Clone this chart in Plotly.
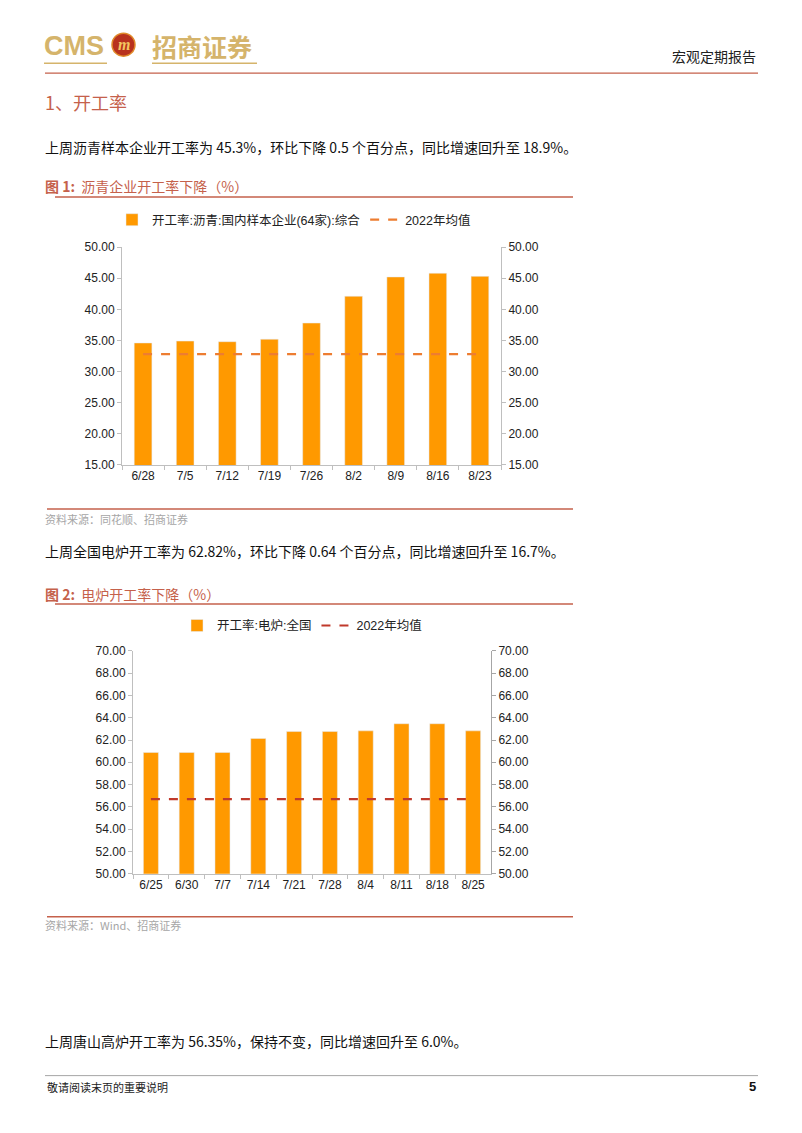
import plotly.graph_objects as go

# page is drawn inside the 8px body margin of the html page
OFF = 8
W, H = 802 - 2 * OFF, 1133 - 2 * OFF
# measured vertical squeeze of the photographed page
SY, DY = 0.988, 5.9

# chart 1 data: asphalt sample enterprises
dates1 = ["6/28", "7/5", "7/12", "7/19", "7/26", "8/2", "8/9", "8/16", "8/23"]
rate1 = [34.6, 34.9, 34.8, 35.2, 37.8, 42.1, 45.2, 45.8, 45.3]
avg1 = [32.8] * len(dates1)

# chart 2 data: electric furnace
dates2 = ["6/25", "6/30", "7/7", "7/14", "7/21", "7/28", "8/4", "8/11", "8/18", "8/25"]
rate2 = [60.88, 60.88, 60.88, 62.14, 62.76, 62.76, 62.82, 63.46, 63.46, 62.82]
avg2 = [56.7] * len(dates2)

FONT = "Liberation Sans, Noto Sans CJK SC, sans-serif"
CJK = "Noto Sans CJK SC, Liberation Sans, sans-serif"
BAR = "#FF9900"
RED = "#C5614B"
GOLD = "#D5B46B"


def py(y):
    y = (y - DY) / SY
    return 1 - (y - OFF) / H


def px(x):
    return (x - OFF) / W


fig = go.Figure()

fig.add_trace(go.Bar(x=dates1, y=rate1, name="开工率:沥青:国内样本企业(64家):综合",
                     marker_color=BAR, width=0.42, xaxis="x", yaxis="y", legend="legend"))
fig.add_trace(go.Scatter(x=dates1, y=avg1, name="2022年均值", mode="lines",
                         line=dict(color="#ED7D31", dash="dash", width=2.2),
                         xaxis="x", yaxis="y2", legend="legend"))
fig.add_trace(go.Bar(x=dates2, y=rate2, name="开工率:电炉:全国",
                     marker_color=BAR, width=0.42, xaxis="x3", yaxis="y3", legend="legend2"))
fig.add_trace(go.Scatter(x=dates2, y=avg2, name="2022年均值", mode="lines",
                         line=dict(color="#C0392B", dash="dash", width=2.2),
                         xaxis="x3", yaxis="y4", legend="legend2"))

tick_font = dict(family=FONT, size=12, color="#222")


def yax(dom, rng, dtick, anchor, side="left", overlay=None, lc="#BFBFBF"):
    d = dict(domain=dom, range=rng, dtick=dtick, tickformat=".2f", showgrid=False,
             zeroline=False, showline=True, linecolor=lc, linewidth=1, ticks="outside",
             ticklen=4, tickcolor=lc, tickfont=tick_font, side=side, anchor=anchor,
             fixedrange=True)
    if overlay:
        d["overlaying"] = overlay
    return d


def xax(dom, anchor):
    return dict(domain=dom, anchor=anchor, showgrid=False, zeroline=False, showline=True,
                linecolor="#BFBFBF", ticks="outside", tickson="boundaries", ticklen=4,
                tickcolor="#BFBFBF", tickfont=tick_font, type="category")


fig.update_layout(
    width=W, height=H, margin=dict(l=0, r=0, t=0, b=0),
    paper_bgcolor="white", plot_bgcolor="white", showlegend=True,
    xaxis=xax([px(122), px(501)], "y"),
    yaxis=yax([py(464), py(246)], [15, 50], 5, "x"),
    yaxis2=yax([py(464), py(246)], [15, 50], 5, "x", side="right", overlay="y"),
    xaxis3=xax([px(133), px(491)], "y3"),
    yaxis3=yax([py(873), py(650)], [50, 70], 2, "x3"),
    yaxis4=yax([py(873), py(650)], [50, 70], 2, "x3", side="right", overlay="y3", lc="#A6A6A6"),
    legend=dict(orientation="h", x=px(112), y=py(219), xanchor="left", yanchor="middle",
                font=dict(family=FONT, size=12.5, color="#222"),
                bgcolor="rgba(0,0,0,0)"),
    legend2=dict(orientation="h", x=px(177), y=py(625), xanchor="left", yanchor="middle",
                 font=dict(family=FONT, size=12.5, color="#222"),
                 bgcolor="rgba(0,0,0,0)"),
)

shapes = []


def hline(x0, x1, y, color, w=1.2):
    shapes.append(dict(type="line", xref="paper", yref="paper", x0=px(x0), x1=px(x1),
                       y0=py(y), y1=py(y), line=dict(color=color, width=w)))


hline(44, 107, 62, GOLD, 1.5)
hline(152, 257, 62, GOLD, 1.5)
hline(45, 758, 72, RED, 1.2)
hline(55, 573, 196, RED, 1.5)
hline(47, 573, 508, RED, 1.5)
hline(55, 573, 603, RED, 1.5)
hline(47, 573, 916, RED, 1.5)
hline(45, 758, 1075, "#A6A6A6", 1)
# logo circle
shapes.append(dict(type="circle", xref="paper", yref="paper", x0=px(112), x1=px(135),
                   y0=py(55), y1=py(32), fillcolor="#B8321E", line=dict(color="#E08A2A", width=1.5)))
fig.update_layout(shapes=shapes)


def text(x, y, s, size, color="#111", anchor="left", family=CJK, bold=False):
    if bold:
        s = "<b>" + s + "</b>"
    fig.add_annotation(x=px(x), y=py(y), xref="paper", yref="paper", text=s,
                       showarrow=False, xanchor=anchor, yanchor="middle",
                       font=dict(family=family, size=size, color=color))


text(42, 45, "CMS", 27, GOLD, family="Liberation Sans, sans-serif", bold=True)
text(123.5, 43, "<i>m</i>", 16, "#F2C660", anchor="center", family="Liberation Serif", bold=True)
text(150, 45, "招商证券", 25, GOLD, bold=True)
text(758, 55, "宏观定期报告", 14, "#222", anchor="right")
text(43, 101, "1、开工率", 18, RED)
text(43, 146, "上周沥青样本企业开工率为 45.3%，环比下降 0.5 个百分点，同比增速回升至 18.9%。", 14)
text(43, 185, "<b>图 1:</b>  沥青企业开工率下降（%）", 14, RED)
text(43, 518, "资料来源：同花顺、招商证券", 11, "#A6A6A6")
text(43, 550, "上周全国电炉开工率为 62.82%，环比下降 0.64 个百分点，同比增速回升至 16.7%。", 14)
text(43, 593, "<b>图 2:</b>  电炉开工率下降（%）", 14, RED)
text(43, 924, "资料来源：Wind、招商证券", 11, "#A6A6A6")
text(43, 1040, "上周唐山高炉开工率为 56.35%，保持不变，同比增速回升至 6.0%。", 14)
text(45, 1086, "敬请阅读末页的重要说明", 11, "#222")
text(758, 1086, "5", 13, "#111", anchor="right", family="Liberation Sans", bold=True)

fig.write_html("out.html")
